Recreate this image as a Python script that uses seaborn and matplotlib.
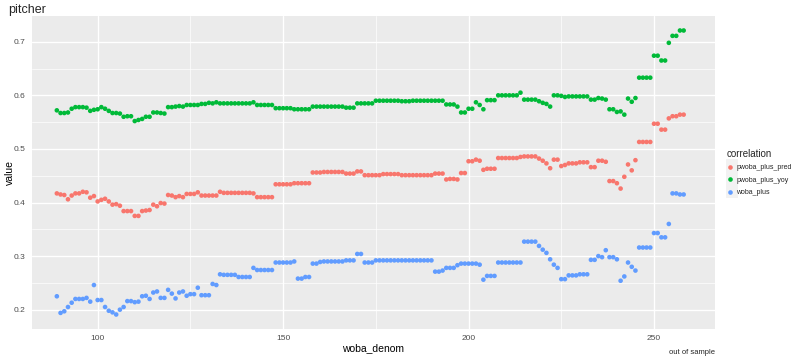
import numpy as np
import pandas as pd

import matplotlib

matplotlib.use("Agg")
import matplotlib.pyplot as plt  # noqa: E402
from matplotlib.patches import Rectangle  # noqa: E402

import seaborn as sns  # noqa: E402

# x axis: one point per woba_denom value, 89 .. 258 (consecutive integers)
woba_denom = list(range(89, 259))

# values, ten per line (89-98, 99-108, ...)
pwoba_plus_pred = [
    0.417, 0.415, 0.414, 0.406, 0.413, 0.417, 0.417, 0.420, 0.419, 0.409,
    0.412, 0.402, 0.405, 0.407, 0.402, 0.396, 0.397, 0.394, 0.384, 0.384,
    0.384, 0.375, 0.375, 0.384, 0.385, 0.386, 0.396, 0.393, 0.399, 0.398,
    0.414, 0.413, 0.410, 0.412, 0.410, 0.416, 0.416, 0.416, 0.419, 0.413,
    0.413, 0.413, 0.413, 0.413, 0.420, 0.418, 0.418, 0.418, 0.418, 0.418,
    0.418, 0.418, 0.418, 0.417, 0.410, 0.410, 0.410, 0.410, 0.410, 0.434,
    0.434, 0.434, 0.434, 0.434, 0.436, 0.436, 0.436, 0.436, 0.436, 0.456,
    0.456, 0.456, 0.457, 0.457, 0.457, 0.457, 0.457, 0.457, 0.454, 0.454,
    0.454, 0.458, 0.458, 0.451, 0.451, 0.451, 0.451, 0.451, 0.453, 0.453,
    0.453, 0.453, 0.453, 0.451, 0.451, 0.451, 0.451, 0.451, 0.451, 0.451,
    0.451, 0.451, 0.454, 0.454, 0.454, 0.443, 0.444, 0.444, 0.443, 0.455,
    0.455, 0.477, 0.477, 0.480, 0.478, 0.461, 0.463, 0.463, 0.463, 0.483,
    0.483, 0.483, 0.483, 0.483, 0.483, 0.485, 0.486, 0.486, 0.486, 0.486,
    0.482, 0.478, 0.473, 0.464, 0.480, 0.480, 0.468, 0.470, 0.473, 0.473,
    0.473, 0.475, 0.475, 0.475, 0.466, 0.466, 0.478, 0.478, 0.476, 0.440,
    0.440, 0.436, 0.426, 0.448, 0.471, 0.460, 0.479, 0.513, 0.513, 0.513,
    0.513, 0.547, 0.547, 0.536, 0.536, 0.557, 0.561, 0.561, 0.564, 0.564,
]

pwoba_plus_yoy = [
    0.572, 0.567, 0.567, 0.568, 0.575, 0.578, 0.578, 0.578, 0.577, 0.571,
    0.573, 0.574, 0.578, 0.575, 0.571, 0.567, 0.567, 0.566, 0.560, 0.561,
    0.561, 0.552, 0.554, 0.556, 0.560, 0.560, 0.568, 0.568, 0.567, 0.566,
    0.578, 0.578, 0.579, 0.580, 0.579, 0.582, 0.582, 0.582, 0.582, 0.584,
    0.584, 0.586, 0.585, 0.587, 0.585, 0.585, 0.585, 0.585, 0.585, 0.585,
    0.585, 0.585, 0.585, 0.587, 0.582, 0.582, 0.582, 0.582, 0.582, 0.576,
    0.576, 0.576, 0.576, 0.576, 0.574, 0.574, 0.574, 0.574, 0.574, 0.579,
    0.579, 0.579, 0.579, 0.579, 0.579, 0.579, 0.579, 0.579, 0.577, 0.577,
    0.577, 0.585, 0.585, 0.585, 0.585, 0.585, 0.590, 0.590, 0.590, 0.590,
    0.590, 0.590, 0.590, 0.589, 0.589, 0.589, 0.590, 0.590, 0.590, 0.590,
    0.590, 0.590, 0.590, 0.590, 0.590, 0.583, 0.583, 0.583, 0.579, 0.568,
    0.568, 0.575, 0.575, 0.587, 0.582, 0.574, 0.591, 0.591, 0.591, 0.600,
    0.600, 0.600, 0.600, 0.600, 0.600, 0.605, 0.592, 0.592, 0.592, 0.592,
    0.589, 0.586, 0.584, 0.579, 0.600, 0.600, 0.599, 0.597, 0.598, 0.598,
    0.598, 0.598, 0.598, 0.598, 0.592, 0.592, 0.595, 0.594, 0.592, 0.574,
    0.574, 0.569, 0.570, 0.564, 0.594, 0.588, 0.595, 0.633, 0.633, 0.633,
    0.633, 0.674, 0.674, 0.665, 0.665, 0.698, 0.711, 0.711, 0.721, 0.721,
]

woba_plus = [
    0.225, 0.194, 0.197, 0.205, 0.213, 0.220, 0.220, 0.220, 0.222, 0.215,
    0.246, 0.218, 0.218, 0.205, 0.198, 0.195, 0.191, 0.200, 0.205, 0.216,
    0.216, 0.214, 0.215, 0.225, 0.226, 0.220, 0.232, 0.234, 0.222, 0.222,
    0.237, 0.230, 0.221, 0.232, 0.234, 0.226, 0.229, 0.229, 0.241, 0.227,
    0.227, 0.227, 0.248, 0.246, 0.266, 0.265, 0.265, 0.265, 0.265, 0.261,
    0.261, 0.261, 0.261, 0.278, 0.274, 0.274, 0.274, 0.274, 0.274, 0.288,
    0.288, 0.288, 0.288, 0.288, 0.290, 0.258, 0.258, 0.261, 0.261, 0.286,
    0.286, 0.289, 0.290, 0.290, 0.290, 0.290, 0.290, 0.290, 0.292, 0.292,
    0.292, 0.304, 0.304, 0.288, 0.288, 0.288, 0.292, 0.292, 0.292, 0.292,
    0.292, 0.292, 0.292, 0.292, 0.292, 0.292, 0.292, 0.292, 0.292, 0.292,
    0.292, 0.292, 0.271, 0.271, 0.273, 0.278, 0.278, 0.278, 0.283, 0.286,
    0.286, 0.286, 0.286, 0.286, 0.284, 0.256, 0.263, 0.263, 0.263, 0.288,
    0.288, 0.288, 0.288, 0.288, 0.288, 0.288, 0.327, 0.327, 0.327, 0.327,
    0.319, 0.312, 0.306, 0.294, 0.284, 0.278, 0.257, 0.257, 0.264, 0.264,
    0.264, 0.266, 0.266, 0.266, 0.293, 0.293, 0.300, 0.298, 0.311, 0.298,
    0.298, 0.294, 0.254, 0.262, 0.288, 0.280, 0.273, 0.316, 0.316, 0.316,
    0.316, 0.343, 0.343, 0.335, 0.335, 0.360, 0.417, 0.417, 0.415, 0.415,
]

series_names = ["pwoba_plus_pred", "pwoba_plus_yoy", "woba_plus"]
series_colors = ["#F8766D", "#00BA38", "#619CFF"]


def main() -> None:
    wide = pd.DataFrame(
        {
            "woba_denom": woba_denom,
            "pwoba_plus_pred": pwoba_plus_pred,
            "pwoba_plus_yoy": pwoba_plus_yoy,
            "woba_plus": woba_plus,
        }
    )
    df = wide.melt(id_vars="woba_denom", var_name="correlation", value_name="value")

    sns.set_style("darkgrid")
    plt.rcParams.update(
        {
            "font.family": ["Liberation Sans", "DejaVu Sans"],
            "axes.facecolor": "#EBEBEB",
            "grid.color": "white",
        }
    )

    fig = plt.figure(figsize=(8, 3.6), dpi=100)
    W, H = 800, 360
    # panel in pixel coordinates (left, top, right, bottom)
    pl, pt, pr, pb = 32, 16.3, 715, 328.7
    ax = fig.add_axes([pl / W, 1 - pb / H, (pr - pl) / W, (pb - pt) / H])

    sns.scatterplot(
        data=df,
        x="woba_denom",
        y="value",
        hue="correlation",
        hue_order=series_names,
        palette=series_colors,
        s=11,
        linewidth=0,
        ax=ax,
    )

    # 100 sits at px 97.7 and 250 at px 654.3 in the reference
    ax.set_xlim(82.3, 266.45)
    ax.set_ylim(0.1645, 0.7475)
    ax.set_xticks([100, 150, 200, 250])
    ax.set_xticks([125, 175, 225], minor=True)
    ax.set_yticks([0.2, 0.3, 0.4, 0.5, 0.6, 0.7])
    ax.set_yticks([0.25, 0.35, 0.45, 0.55, 0.65], minor=True)
    ax.set_yticklabels(["0.2", "0.3", "0.4", "0.5", "0.6", "0.7"])
    ax.grid(which="major", color="white", linewidth=1.0)
    ax.grid(which="minor", color="white", linewidth=0.5)
    ax.tick_params(
        which="major", length=2.7, width=0.6, color="#333333",
        labelsize=6, labelcolor="#4D4D4D", pad=2,
    )
    ax.tick_params(which="minor", length=0)
    for side in ax.spines.values():
        side.set_visible(False)

    ax.set_xlabel("woba_denom", fontsize=7.5, color="black", labelpad=1)
    ax.set_ylabel("value", fontsize=7.5, color="black")
    # anchor is the label's right edge once rotated
    ax.yaxis.set_label_coords((15 - pl) / (pr - pl), 0.5)
    fig.text(8 / W, 1 - 10 / H, "pitcher", fontsize=9, ha="left", va="center")
    fig.text(pr / W, 1 - 353 / H, "out of sample", fontsize=5.5, ha="right", va="center")

    # legend on the right, ggplot style
    fig.patches.append(
        Rectangle((726 / W, 1 - 197.5 / H), 12 / W, 39 / H, transform=fig.transFigure,
                  facecolor="#F2F2F2", edgecolor="none", zorder=-1)
    )
    sns.move_legend(
        ax,
        "upper left",
        bbox_to_anchor=(724 / W, 1 - 146 / H),
        bbox_transform=fig.transFigure,
        frameon=False,
        title="correlation",
        fontsize=5,
        title_fontsize=7,
        markerscale=1.0,
        handlelength=1.0,
        handletextpad=0.4,
        labelspacing=0.8,
        borderaxespad=0,
    )
    leg = ax.get_legend()
    leg._legend_box.align = "left"

    fig.savefig("out.png", dpi=100)
    plt.close(fig)


if __name__ == "__main__":
    main()
